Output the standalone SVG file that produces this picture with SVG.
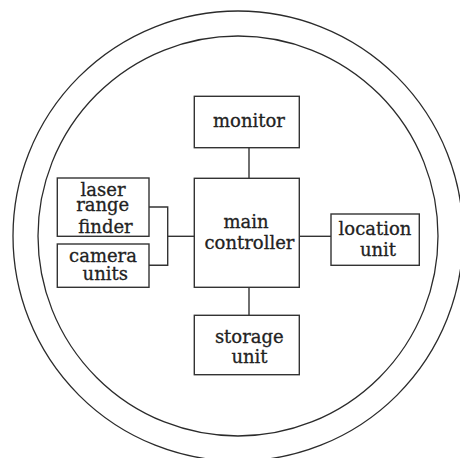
<svg xmlns="http://www.w3.org/2000/svg" width="460" height="458" viewBox="0 0 460 458">
  <style>
    .ring { fill: none; stroke: #2b2b2b; stroke-width: 1.3; }
    .box { fill: #ffffff; stroke: #333333; stroke-width: 1.4; }
    .wire { fill: none; stroke: #333333; stroke-width: 1.4; }
    text { font-family: "DejaVu Serif", "Liberation Serif", serif; font-size: 18px; fill: #222222; stroke: #222222; stroke-width: 0.3; text-anchor: middle; }
  </style>
  <rect width="460" height="458" fill="#ffffff"/>

  <!-- enclosing double ring -->
  <circle class="ring" cx="238" cy="236" r="225"/>
  <circle class="ring" cx="238" cy="236" r="200"/>

  <!-- connectors -->
  <g id="connectors">
    <line class="wire" x1="249" y1="147.7" x2="249" y2="178.3"/>
    <line class="wire" x1="249" y1="287.3" x2="249" y2="315.3"/>
    <line class="wire" x1="299.3" y1="236.3" x2="331" y2="236.3"/>
    <polyline class="wire" points="149,207 167.7,207 167.7,265.3 149,265.3"/>
    <line class="wire" x1="167.7" y1="236.3" x2="194.3" y2="236.3"/>
  </g>

  <g id="monitor">
    <rect class="box" x="194.3" y="96.3" width="105" height="51.4"/>
    <text x="249" y="127">monitor</text>
  </g>

  <g id="main-controller">
    <rect class="box" x="194.3" y="178.3" width="105" height="109"/>
    <text x="246" y="227.7">main</text>
    <text x="249.5" y="249.3">controller</text>
  </g>

  <g id="storage-unit">
    <rect class="box" x="194.3" y="315.3" width="105" height="59.4"/>
    <text x="249.3" y="342.7">storage</text>
    <text x="249.5" y="362.7">unit</text>
  </g>

  <g id="laser-range-finder">
    <rect class="box" x="57.3" y="178" width="91.7" height="58.3"/>
    <text x="103" y="195.7">laser</text>
    <text x="102.7" y="210.7">range</text>
    <text x="105.5" y="233.3">finder</text>
  </g>

  <g id="camera-units">
    <rect class="box" x="57.3" y="244" width="91.7" height="43.3"/>
    <text x="103" y="261.5">camera</text>
    <text x="105.3" y="279.7">units</text>
  </g>

  <g id="location-unit">
    <rect class="box" x="331" y="214" width="88.3" height="51.3"/>
    <text x="375" y="235.3">location</text>
    <text x="378" y="256">unit</text>
  </g>
</svg>
